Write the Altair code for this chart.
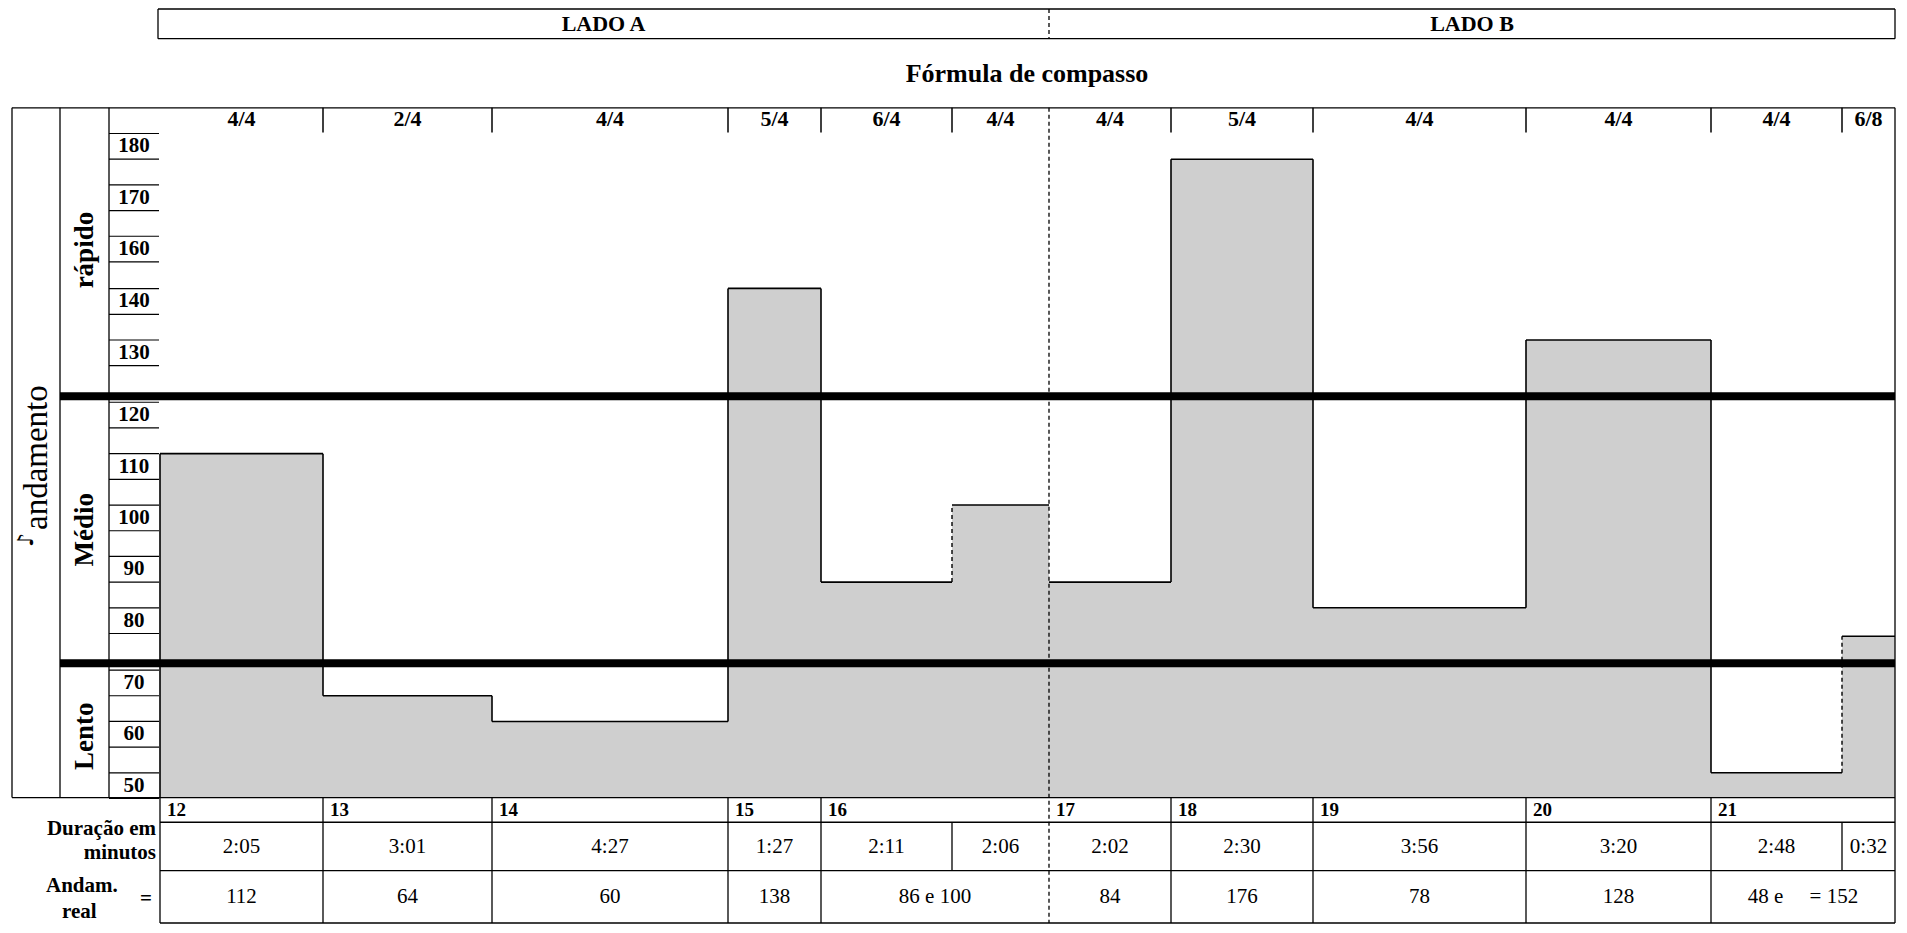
import altair as alt
import pandas as pd

# ---------------- data ----------------
lados = ["LADO A", "LADO B"]
column_side = ["A", "A", "A", "A", "A", "A", "B", "B", "B", "B", "B", "B"]
segment_ids = ["12", "13", "14", "15", "16", "16", "17", "18", "19", "20", "21", "21"]
time_signatures = ["4/4", "2/4", "4/4", "5/4", "6/4", "4/4", "4/4", "5/4", "4/4", "4/4", "4/4", "6/8"]
durations = ["2:05", "3:01", "4:27", "1:27", "2:11", "2:06", "2:02", "2:30", "3:56", "3:20", "2:48", "0:32"]
tempo_drawn = [112.5, 67.5, 62.5, 145, 87.5, 102.5, 87.5, 177.5, 82.5, 132.5, 52.5, 77.5]
column_widths = [163, 169, 236, 93, 131, 97, 122, 142, 213, 185, 131, 53]
real_tempo = ["112", "64", "60", "138", "86 e 100", "84", "176", "78", "128",
              "48 e\u00a0\u00a0\u00a0\u00a0\u00a0= 152"]
tick_values = [180, 170, 160, 140, 130, 120, 110, 100, 90, 80, 70, 60, 50]
sections = ["rápido", "Médio", "Lento"]
axis_title = "andamento"
axis_symbol = "\u266a"
title_text = "Fórmula de compasso"
row_labels = ["Duração em", "minutos", "Andam.", "real", "="]

# ---------------- layout ----------------
W, H = 1889, 917
FONT = "Liberation Serif"
Y0, Y1 = 5, 933


def py(r):
    return round((r - Y0) * H / (Y1 - Y0), 2)


XS = alt.Scale(domain=[8, 8 + W], range=[0, W], nice=False, zero=False)
LY = alt.Scale(domain=[Y0, Y1], range=[0, H], nice=False, zero=False)
TY = alt.Scale(domain=[47.5, 50, 70, 80, 120, 130, 140, 160, 180, 184.6],
               range=[py(v) for v in [804, 792, 688, 625, 417, 354, 302, 249, 145, 106]],
               nice=False, zero=False)
BASE = 47.5
PLOT_LEFT = 160

edges = [PLOT_LEFT]
for w in column_widths:
    edges.append(edges[-1] + w)
RIGHT = edges[-1]

cols = pd.DataFrame({
    "x0": edges[:-1], "x1": edges[1:],
    "xc": [(a + b) / 2 for a, b in zip(edges[:-1], edges[1:])],
    "seg": segment_ids, "ts": time_signatures, "dur": durations,
    "tempo": tempo_drawn, "side": column_side, "base": BASE,
})

# groups of columns that share a segment number
groups = []
for i, s in enumerate(segment_ids):
    if groups and groups[-1]["seg"] == s:
        groups[-1]["x1"] = edges[i + 1]
    else:
        groups.append({"seg": s, "x0": edges[i], "x1": edges[i + 1]})
grp = pd.DataFrame(groups)
grp["xc"] = (grp["x0"] + grp["x1"]) / 2
grp["real"] = real_tempo
grp["xl"] = grp["x0"] + 7

side_boundary = [edges[i + 1] for i in range(len(column_side) - 1) if column_side[i] != column_side[i + 1]][0]
side_center = [(PLOT_LEFT - 2 + side_boundary) / 2, (side_boundary + RIGHT) / 2]


def hrules(df, ys, **kw):
    return alt.Chart(df).mark_rule(**kw).encode(
        x=alt.X("x:Q", scale=XS, axis=None), x2="x2:Q",
        y=alt.Y("y:Q", scale=ys, axis=None))


def vrules(df, ys, **kw):
    return alt.Chart(df).mark_rule(**kw).encode(
        x=alt.X("x:Q", scale=XS, axis=None),
        y=alt.Y("y:Q", scale=ys, axis=None), y2="y2:Q")


def texts(df, ys, xf="x", yf="y", tf="t", font=FONT, **kw):
    return alt.Chart(df).mark_text(font=font, baseline="middle", **kw).encode(
        x=alt.X(f"{xf}:Q", scale=XS, axis=None),
        y=alt.Y(f"{yf}:Q", scale=ys, axis=None),
        text=f"{tf}:N")


layers = []

# bars
layers.append(alt.Chart(cols).mark_rect(fill="#cfcfcf", strokeWidth=0).encode(
    x=alt.X("x0:Q", scale=XS, axis=None), x2="x1:Q",
    y=alt.Y("tempo:Q", scale=TY, axis=None), y2="base:Q"))

# bar outline: tops
layers.append(alt.Chart(cols).mark_rule(color="black", strokeWidth=1.6).encode(
    x=alt.X("x0:Q", scale=XS, axis=None), x2="x1:Q",
    y=alt.Y("tempo:Q", scale=TY, axis=None)))

# bar outline: verticals
vs, vd = [], []
vs.append({"x": edges[0], "y": BASE, "y2": tempo_drawn[0]})
for i in range(len(tempo_drawn) - 1):
    if column_side[i] != column_side[i + 1]:
        continue
    rec = {"x": edges[i + 1], "y": tempo_drawn[i], "y2": tempo_drawn[i + 1]}
    (vd if segment_ids[i] == segment_ids[i + 1] else vs).append(rec)
layers.append(vrules(pd.DataFrame(vs), TY, color="black", strokeWidth=1.6))
layers.append(vrules(pd.DataFrame(vd), TY, color="black", strokeWidth=1.4, strokeDash=[4, 3]))

# tick label boxes and labels
ticks = pd.DataFrame({"y": tick_values, "x": 109, "x2": PLOT_LEFT - 1, "xc": 134,
                      "t": [str(v) for v in tick_values]})
off = 13 * H / (Y1 - Y0)
layers.append(hrules(ticks, TY, color="black", strokeWidth=1.2, yOffset=-off))
layers.append(hrules(ticks, TY, color="black", strokeWidth=1.2, yOffset=off))
layers.append(texts(ticks, TY, xf="xc", fontSize=21, fontWeight="bold", align="center"))

# thick section separators
layers.append(hrules(pd.DataFrame({"x": [60, 60], "x2": [RIGHT, RIGHT], "y": [398, 668]}),
                     LY, color="black", strokeWidth=8))

# frame lines
frame_h = pd.DataFrame([
    {"x": 12, "x2": RIGHT, "y": 106},
    {"x": 12, "x2": RIGHT, "y": 804},
    {"x": PLOT_LEFT, "x2": RIGHT, "y": 829},
    {"x": PLOT_LEFT, "x2": RIGHT, "y": 878},
    {"x": PLOT_LEFT, "x2": RIGHT, "y": 931},
    {"x": PLOT_LEFT - 2, "x2": RIGHT, "y": 6},
    {"x": PLOT_LEFT - 2, "x2": RIGHT, "y": 36},
])
frame_v = pd.DataFrame([
    {"x": 12, "y": 106, "y2": 804},
    {"x": 60, "y": 106, "y2": 804},
    {"x": 109, "y": 106, "y2": 804},
    {"x": RIGHT, "y": 106, "y2": 931},
    {"x": PLOT_LEFT, "y": 804, "y2": 931},
    {"x": PLOT_LEFT - 2, "y": 6, "y2": 36},
    {"x": RIGHT, "y": 6, "y2": 36},
])
layers.append(hrules(frame_h, LY, color="black", strokeWidth=1.3))
layers.append(vrules(frame_v, LY, color="black", strokeWidth=1.3))

# A / B divider (dashed)
layers.append(vrules(pd.DataFrame([{"x": side_boundary, "y": 6, "y2": 36},
                                   {"x": side_boundary, "y": 106, "y2": 931}]),
                     LY, color="black", strokeWidth=1.3, strokeDash=[4, 3]))

# header texts
layers.append(texts(pd.DataFrame({"x": side_center, "y": [21, 21], "t": lados}), LY,
                    fontSize=22, fontWeight="bold", align="center"))
layers.append(texts(pd.DataFrame({"x": [1027], "y": [72], "t": [title_text]}), LY,
                    fontSize=26, fontWeight="bold", align="center"))

# time signature row
ts_df = cols.assign(y=117)
layers.append(texts(ts_df, LY, xf="xc", tf="ts", fontSize=22, fontWeight="bold", align="center"))
inner = [e for e in edges[1:-1] if e != side_boundary]
layers.append(vrules(pd.DataFrame({"x": inner, "y": 106, "y2": 131}), LY, color="black", strokeWidth=1.5))

# left rotated labels
layers.append(texts(pd.DataFrame({"x": [85, 85, 85], "y": [250, 533, 742], "t": sections}), LY,
                    fontSize=27, fontWeight="bold", align="center", angle=270))
layers.append(texts(pd.DataFrame({"x": [37], "y": [460], "t": [axis_title]}), LY,
                    fontSize=33, align="center", angle=270))
layers.append(texts(pd.DataFrame({"x": [26], "y": [543], "t": [axis_symbol]}), LY,
                    font="DejaVu Sans", fontSize=22, align="center", angle=270))

# table: segment numbers row
layers.append(texts(grp.assign(y=817), LY, xf="xl", tf="seg", fontSize=19, fontWeight="bold", align="left"))
grp_inner = [x for x in grp["x0"].tolist()[1:] if x != side_boundary]
layers.append(vrules(pd.DataFrame({"x": grp_inner, "y": 804, "y2": 829}), LY, color="black", strokeWidth=1.3))
# durations row
layers.append(texts(cols.assign(y=854), LY, xf="xc", tf="dur", fontSize=21, align="center"))
layers.append(vrules(pd.DataFrame({"x": inner, "y": 829, "y2": 878}), LY, color="black", strokeWidth=1.3))
# real tempo row
layers.append(texts(grp.assign(y=905), LY, xf="xc", tf="real", fontSize=21, align="center"))
layers.append(vrules(pd.DataFrame({"x": grp_inner, "y": 878, "y2": 931}), LY, color="black", strokeWidth=1.3))

# row labels
lab = pd.DataFrame({"x": [156, 156], "y": [836, 860], "t": row_labels[:2]})
layers.append(texts(lab, LY, fontSize=21, fontWeight="bold", align="right"))
lab2 = pd.DataFrame({"x": [46, 62], "y": [894, 920], "t": row_labels[2:4]})
layers.append(texts(lab2, LY, fontSize=21, fontWeight="bold", align="left"))
lab3 = pd.DataFrame({"x": [146], "y": [907], "t": row_labels[4:]})
layers.append(texts(lab3, LY, fontSize=21, fontWeight="bold", align="center"))

chart = alt.layer(*layers).resolve_scale(y="independent").properties(
    width=W, height=H, padding=0, autosize="none", background="white"
).configure_view(stroke=None)

chart.save("out.html", embed_options={"renderer": "svg", "actions": False})
